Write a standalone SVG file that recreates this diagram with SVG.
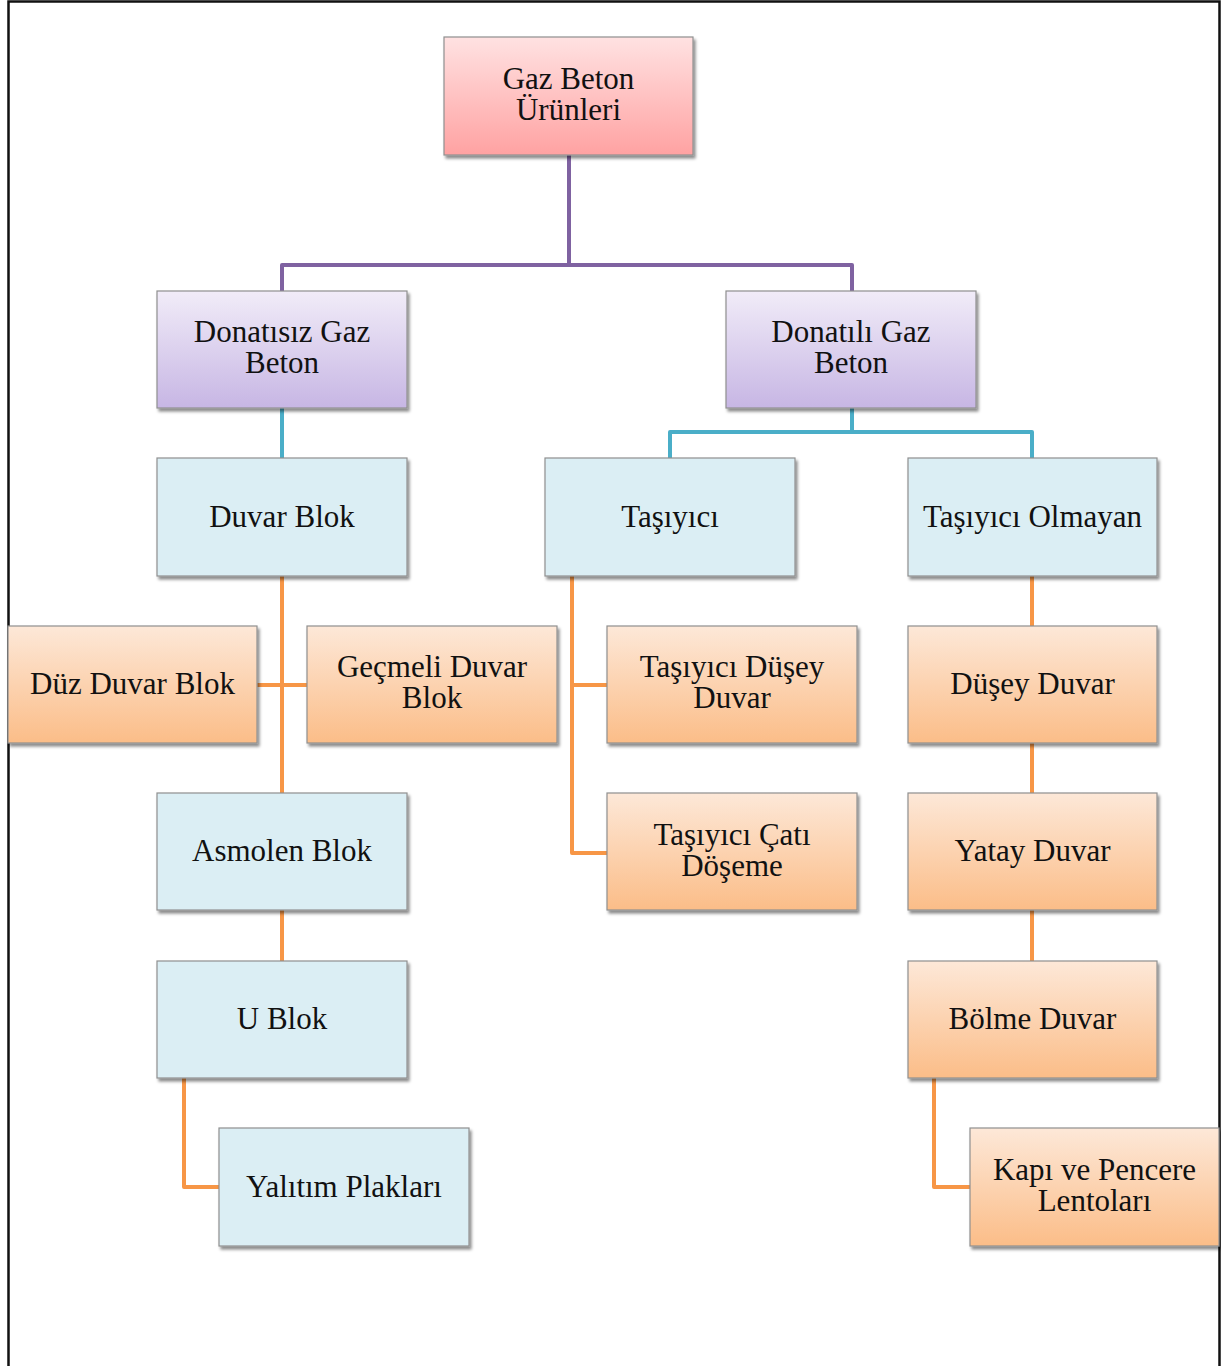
<svg xmlns="http://www.w3.org/2000/svg" width="1221" height="1366" viewBox="0 0 1221 1366">
<defs>
<linearGradient id="gPink" x1="0" y1="0" x2="0" y2="1"><stop offset="0" stop-color="#ffe2e2"/><stop offset="1" stop-color="#ffa2a2"/></linearGradient>
<linearGradient id="gPurple" x1="0" y1="0" x2="0" y2="1"><stop offset="0" stop-color="#f1ecf8"/><stop offset="1" stop-color="#c7b6e4"/></linearGradient>
<linearGradient id="gOrange" x1="0" y1="0" x2="0" y2="1"><stop offset="0" stop-color="#fde8d8"/><stop offset="1" stop-color="#fbbd88"/></linearGradient>
<filter id="sh" x="-5%" y="-5%" width="115%" height="120%"><feDropShadow dx="2" dy="3" stdDeviation="1.5" flood-color="#000" flood-opacity="0.45"/></filter>
<style>
.box{stroke:#8f8f8f;stroke-width:1.2;filter:url(#sh)}
.pink{fill:url(#gPink)}
.purple{fill:url(#gPurple)}
.blue{fill:#dbeef4}
.orange{fill:url(#gOrange)}
text{font-family:"Liberation Serif","Times New Roman",serif;font-size:31px;fill:#111;text-anchor:middle}
.c{fill:none;stroke-width:4;stroke-linejoin:round}
.cp{stroke:#7f62a1}
.cc{stroke:#4aaec8}
.co{stroke:#f79646}
</style>
</defs>
<rect x="0" y="0" width="1221" height="1366" fill="#fff"/>
<path d="M8.5,1370 V1.5 H1219.5 V1370" fill="none" stroke="#111" stroke-width="2.5"/>
<g id="connectors">
<path class="c cp" d="M569,155 V265 M282,291 V265 H852 V291"/>
<path class="c cc" d="M282,408 V458 M852,408 V432 M670,458 V432 H1032 V458"/>
<path class="c co" d="M282,576 V793 M257,685 H307 M282,910 V961 M184,1078 V1187 H219"/>
<path class="c co" d="M572,576 V853 H607 M572,685 H607"/>
<path class="c co" d="M1032,576 V626 M1032,743 V793 M1032,910 V961 M934,1078 V1187 H970"/>
</g>
<g id="n-gaz-beton-urunleri"><rect class="box pink" x="444" y="37" width="249" height="118"/><text x="568.5" y="89">Gaz Beton</text><text x="568.5" y="120">Ürünleri</text></g>
<g id="n-donatisiz"><rect class="box purple" x="157" y="291" width="250" height="117"/><text x="282" y="342">Donatısız Gaz</text><text x="282" y="373">Beton</text></g>
<g id="n-donatili"><rect class="box purple" x="726" y="291" width="250" height="117"/><text x="851" y="342">Donatılı Gaz</text><text x="851" y="373">Beton</text></g>
<g id="n-duvar-blok"><rect class="box blue" x="157" y="458" width="250" height="118"/><text x="282" y="527">Duvar Blok</text></g>
<g id="n-tasiyici"><rect class="box blue" x="545" y="458" width="250" height="118"/><text x="670" y="527">Taşıyıcı</text></g>
<g id="n-tasiyici-olmayan"><rect class="box blue" x="908" y="458" width="249" height="118"/><text x="1032.5" y="527">Taşıyıcı Olmayan</text></g>
<g id="n-duz-duvar-blok"><rect class="box orange" x="8" y="626" width="249" height="117"/><text x="132.5" y="694">Düz Duvar Blok</text></g>
<g id="n-gecmeli"><rect class="box orange" x="307" y="626" width="250" height="117"/><text x="432" y="677">Geçmeli Duvar</text><text x="432" y="708">Blok</text></g>
<g id="n-tasiyici-dusey"><rect class="box orange" x="607" y="626" width="250" height="117"/><text x="732" y="677">Taşıyıcı Düşey</text><text x="732" y="708">Duvar</text></g>
<g id="n-dusey-duvar"><rect class="box orange" x="908" y="626" width="249" height="117"/><text x="1032.5" y="694">Düşey Duvar</text></g>
<g id="n-asmolen"><rect class="box blue" x="157" y="793" width="250" height="117"/><text x="282" y="861">Asmolen Blok</text></g>
<g id="n-tasiyici-cati"><rect class="box orange" x="607" y="793" width="250" height="117"/><text x="732" y="845">Taşıyıcı Çatı</text><text x="732" y="876">Döşeme</text></g>
<g id="n-yatay-duvar"><rect class="box orange" x="908" y="793" width="249" height="117"/><text x="1032.5" y="861">Yatay Duvar</text></g>
<g id="n-u-blok"><rect class="box blue" x="157" y="961" width="250" height="117"/><text x="282" y="1029">U Blok</text></g>
<g id="n-bolme-duvar"><rect class="box orange" x="908" y="961" width="249" height="117"/><text x="1032.5" y="1029">Bölme Duvar</text></g>
<g id="n-yalitim"><rect class="box blue" x="219" y="1128" width="250" height="118"/><text x="344" y="1197">Yalıtım Plakları</text></g>
<g id="n-kapi-pencere"><rect class="box orange" x="970" y="1128" width="249" height="118"/><text x="1094.5" y="1180">Kapı ve Pencere</text><text x="1094.5" y="1211">Lentoları</text></g>
</svg>
